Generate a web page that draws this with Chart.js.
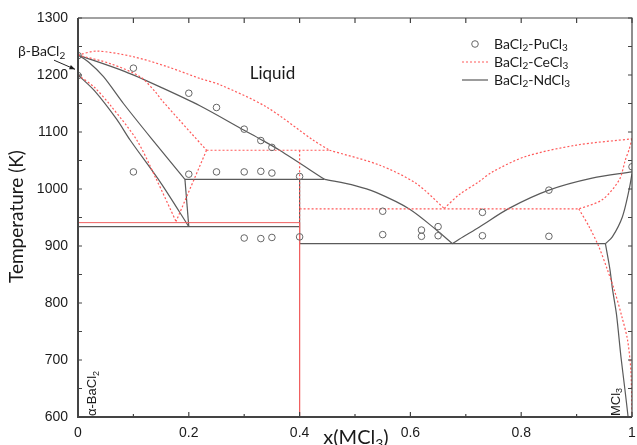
<!DOCTYPE html>
<html>
<head>
<meta charset="utf-8">
<script src="https://cdn.jsdelivr.net/npm/chart.js@4.4.1/dist/chart.umd.min.js"></script>
<style>
  html, body { margin: 0; padding: 0; background: #fff; }
  #wrap { width: 637px; height: 445px; }
</style>
</head>
<body>
<div id="wrap"><canvas id="c" width="637" height="445"></canvas></div>
<script>
// ticks
var xTicks = [0, 0.2, 0.4, 0.6, 0.8, 1];
var xMinorTicks = [0.1, 0.3, 0.5, 0.7, 0.9];
var yTicks = [600, 700, 800, 900, 1000, 1100, 1200, 1300];
var yMinorTicks = [650, 750, 850, 950, 1050, 1150, 1250];

// BaCl2-PuCl3 experimental points
var puX = [0, 0, 0.1, 0.1, 0.2, 0.2, 0.25, 0.25, 0.3, 0.3, 0.3, 0.33, 0.33, 0.33, 0.35, 0.35, 0.35, 0.4, 0.4, 0.55, 0.55, 0.62, 0.62, 0.65, 0.65, 0.73, 0.73, 0.85, 0.85, 1.0];
var puT = [1234, 1199, 1212, 1030, 1168, 1026, 1143, 1030, 1105, 1030, 914, 1085, 1031, 913, 1073, 1028, 915, 1022, 916, 961, 920, 928, 917, 934, 918, 959, 918, 998, 917, 1039];

// BaCl2-CeCl3 calculated lines (x, T)
var ceLiquidusL = [[0, 1235], [0.034, 1242], [0.1, 1232], [0.16, 1215], [0.22, 1194], [0.256, 1183], [0.34, 1144], [0.424, 1086], [0.454, 1068]];
var ceLiquidusM = [[0.454, 1068], [0.544, 1042], [0.61, 1010], [0.661, 966]];
var ceLiquidusR = [[0.661, 966], [0.688, 990], [0.724, 1013], [0.748, 1030], [0.808, 1057], [0.9, 1077], [1.0, 1088]];
var ceSolvusR = [[1.0, 1088], [0.995, 1070], [0.988, 1051], [0.977, 1016], [0.946, 981], [0.904, 965]];
var ceSolvusR2 = [[0.904, 965], [0.922, 935], [0.94, 899], [0.955, 860], [0.968, 823], [0.982, 775], [0.992, 735], [0.998, 680], [1.0, 600]];
var ceSolidusL = [[0, 1235], [0.058, 1220], [0.112, 1197], [0.14, 1170], [0.151, 1156], [0.232, 1068]];
var ceSolvusL = [[0, 1200], [0.03, 1178], [0.06, 1145], [0.106, 1086], [0.14, 1020], [0.177, 943]];
var ceVee = [[0.232, 1068], [0.177, 943]];
var cePeritectic = [[0.232, 1068], [0.454, 1068]];
var ceEutectic = [[0.4, 965], [0.904, 965]];
var ceCompoundTop = [[0.4, 1068], [0.4, 941]];
var ceEutectoid = [[0, 941], [0.4, 941]];
var ceCompound = [[0.4, 941], [0.4, 600]];

// BaCl2-NdCl3 calculated lines (x, T)
var ndLiquidusL = [[0, 1235], [0.085, 1206], [0.153, 1177], [0.22, 1146], [0.3, 1103], [0.33, 1087], [0.364, 1068], [0.445, 1017]];
var ndLiquidusM = [[0.445, 1017], [0.5, 1006], [0.538, 994], [0.598, 965], [0.646, 929], [0.676, 904]];
var ndLiquidusR = [[0.676, 904], [0.688, 912], [0.724, 933], [0.778, 966], [0.85, 998], [0.928, 1019], [1.0, 1030]];
var ndSolidusL = [[0, 1235], [0.02, 1222], [0.046, 1197], [0.082, 1150], [0.133, 1088], [0.193, 1017]];
var ndSolvusL = [[0, 1200], [0.03, 1172], [0.07, 1122], [0.094, 1086], [0.15, 1010], [0.2, 934]];
var ndStep = [[0.193, 1017], [0.2, 934]];
var ndPeritectic = [[0.193, 1017], [0.445, 1017]];
var ndEutectoid = [[0, 934], [0.4, 934]];
var ndCompound = [[0.4, 1017], [0.4, 904]];
var ndEutectic = [[0.4, 904], [0.952, 904]];
var ndSolidusR = [[0.952, 904], [0.9645, 916], [0.9826, 951], [0.9946, 998], [1.0, 1027]];
var ndSolvusR = [[0.952, 904], [0.96, 860], [0.965, 823], [0.972, 780], [0.98, 706], [0.987, 650], [0.993, 600]];

var legendLabels = ['BaCl_2-PuCl_3', 'BaCl_2-CeCl_3', 'BaCl_2-NdCl_3'];

var RED = '#ff5a5a';
var GREY = '#5a5a5a';
var SANS = 'Lato, "Noto Sans", sans-serif';
var ARIAL = '"Liberation Sans", Arial, sans-serif';

function pts(arr) {
  return arr.map(function (p) { return { x: p[0], y: p[1] }; });
}

function lineSet(arr, color, dashed, width, tension) {
  return {
    data: pts(arr),
    showLine: true,
    borderColor: color,
    borderWidth: width || 1.2,
    borderDash: dashed ? [2, 2] : [],
    pointRadius: 0,
    pointHoverRadius: 0,
    tension: tension || 0,
    fill: false,
    order: color === GREY ? 2 : 1
  };
}

var datasets = [];
datasets.push({
  label: legendLabels[0],
  data: puX.map(function (x, i) { return { x: x, y: puT[i] }; }),
  showLine: false,
  pointStyle: 'circle',
  pointRadius: 3.3,
  pointBorderWidth: 1,
  pointBorderColor: '#666',
  pointBackgroundColor: 'rgba(255,255,255,0)',
  order: 0
});
[ndLiquidusL, ndLiquidusM, ndLiquidusR, ndSolidusL, ndSolvusL, ndSolidusR, ndSolvusR].forEach(function (a) {
  datasets.push(lineSet(a, GREY, false, 1.2, 0.3));
});
[ndStep, ndPeritectic, ndEutectoid, ndCompound, ndEutectic].forEach(function (a) {
  datasets.push(lineSet(a, GREY, false, 1.2, 0));
});
[ceLiquidusL, ceLiquidusM, ceLiquidusR, ceSolvusR, ceSolvusR2, ceSolidusL, ceSolvusL].forEach(function (a) {
  datasets.push(lineSet(a, RED, true, 1.2, 0.3));
});
[ceVee, cePeritectic, ceEutectic, ceCompoundTop].forEach(function (a) {
  datasets.push(lineSet(a, RED, true, 1.2, 0));
});
[ceEutectoid, ceCompound].forEach(function (a) {
  datasets.push(lineSet(a, '#f06060', false, 1, 0));
});

function drawRich(ctx, text, x, y, size, align, family) {
  var fam = family || SANS;
  var segs = text.split('_');
  var pieces = [];
  segs.forEach(function (s, i) {
    if (i === 0) { if (s) pieces.push([s, 0]); return; }
    pieces.push([s.charAt(0), 1]);
    if (s.length > 1) pieces.push([s.slice(1), 0]);
  });
  var subSize = Math.round(size * 0.68);
  var total = 0;
  pieces.forEach(function (p) {
    ctx.font = (p[1] ? subSize : size) + 'px ' + fam;
    p.push(ctx.measureText(p[0]).width);
    total += p[2];
  });
  var cx = x;
  if (align === 'center') cx = x - total / 2;
  if (align === 'right') cx = x - total;
  ctx.textAlign = 'left';
  ctx.textBaseline = 'middle';
  pieces.forEach(function (p) {
    ctx.font = (p[1] ? subSize : size) + 'px ' + fam;
    ctx.fillText(p[0], cx, p[1] ? y + size * 0.3 : y);
    cx += p[2];
  });
}

var decorPlugin = {
  id: 'decor',
  afterDraw: function (chart) {
    var ctx = chart.ctx;
    var xs = chart.scales.x, ys = chart.scales.y;
    var a = chart.chartArea;
    ctx.save();

    // frame
    ctx.strokeStyle = '#444';
    ctx.lineWidth = 1.2;
    ctx.beginPath();
    ctx.moveTo(a.left, a.top); ctx.lineTo(a.right, a.top); ctx.lineTo(a.right, a.bottom);
    ctx.stroke();
    ctx.lineWidth = 2;
    ctx.beginPath();
    ctx.moveTo(a.left, a.top); ctx.lineTo(a.left, a.bottom); ctx.lineTo(a.right, a.bottom);
    ctx.stroke();

    // inward ticks
    ctx.lineWidth = 1.2;
    ctx.beginPath();
    xTicks.concat(xMinorTicks).forEach(function (v) {
      var px = xs.getPixelForValue(v);
      var major = xTicks.indexOf(v) >= 0;
      ctx.moveTo(px, a.bottom); ctx.lineTo(px, a.bottom - (major ? 5 : 3));
      ctx.moveTo(px, a.top); ctx.lineTo(px, a.top + 5);
    });
    yTicks.concat(yMinorTicks).forEach(function (v) {
      var py = ys.getPixelForValue(v);
      ctx.moveTo(a.left, py); ctx.lineTo(a.left + 4, py);
      ctx.moveTo(a.right, py); ctx.lineTo(a.right - 4, py);
    });
    ctx.stroke();

    ctx.fillStyle = '#1a1a1a';

    // axis titles
    ctx.save();
    ctx.translate(17, (a.top + a.bottom) / 2 - 1);
    ctx.rotate(-Math.PI / 2);
    drawRich(ctx, 'Temperature (K)', 0, 0, 19, 'center');
    ctx.restore();
    drawRich(ctx, 'x(MCl_3)', (xs.getPixelForValue(0.4) + xs.getPixelForValue(0.6)) / 2 + 1, a.bottom + 21, 20, 'center');

    // Liquid label
    drawRich(ctx, 'Liquid', xs.getPixelForValue(0.31), ys.getPixelForValue(1202), 17, 'left');

    // beta-BaCl2 with arrow
    var x0 = xs.getPixelForValue(0);
    drawRich(ctx, '\u03b2-BaCl_2', 18, ys.getPixelForValue(1241), 14, 'left');
    var tx = x0 - 24, ty = ys.getPixelForValue(1226);
    var hx = x0 - 3, hy = ys.getPixelForValue(1210);
    ctx.strokeStyle = '#222';
    ctx.lineWidth = 1;
    ctx.beginPath(); ctx.moveTo(tx, ty); ctx.lineTo(hx, hy); ctx.stroke();
    var ang = Math.atan2(hy - ty, hx - tx);
    ctx.beginPath();
    ctx.moveTo(hx, hy);
    ctx.lineTo(hx - 6 * Math.cos(ang - 0.4), hy - 6 * Math.sin(ang - 0.4));
    ctx.lineTo(hx - 6 * Math.cos(ang + 0.4), hy - 6 * Math.sin(ang + 0.4));
    ctx.closePath(); ctx.fill();

    // alpha-BaCl2 and MCl3 (vertical)
    ctx.save();
    ctx.translate(xs.getPixelForValue(0.026), a.bottom - 1);
    ctx.rotate(-Math.PI / 2);
    drawRich(ctx, '\u03b1-BaCl_2', 0, 0, 13, 'left', ARIAL);
    ctx.restore();
    ctx.save();
    ctx.translate(xs.getPixelForValue(0.971), a.bottom - 1);
    ctx.rotate(-Math.PI / 2);
    drawRich(ctx, 'MCl_3', 0, 0, 13, 'left', ARIAL);
    ctx.restore();

    // legend
    var lx = 462, lx2 = 488, tx0 = 494;
    var rows = [44, 62, 80];
    ctx.strokeStyle = '#666';
    ctx.lineWidth = 1;
    ctx.beginPath(); ctx.arc(475, rows[0], 3.3, 0, Math.PI * 2); ctx.stroke();
    ctx.strokeStyle = RED; ctx.lineWidth = 1.2; ctx.setLineDash([2, 2]);
    ctx.beginPath(); ctx.moveTo(lx, rows[1]); ctx.lineTo(lx2, rows[1]); ctx.stroke();
    ctx.setLineDash([]);
    ctx.strokeStyle = GREY;
    ctx.beginPath(); ctx.moveTo(lx, rows[2]); ctx.lineTo(lx2, rows[2]); ctx.stroke();
    ctx.fillStyle = '#1a1a1a';
    legendLabels.forEach(function (t, i) { drawRich(ctx, t, tx0, rows[i], 14, 'left'); });

    ctx.restore();
  }
};

new Chart(document.getElementById('c'), {
  type: 'scatter',
  data: { datasets: datasets },
  plugins: [decorPlugin],
  options: {
    responsive: false,
    animation: false,
    events: [],
    layout: { padding: { top: 18, right: 4, left: 0, bottom: 0 } },
    plugins: { legend: { display: false }, tooltip: { enabled: false } },
    scales: {
      x: {
        type: 'linear', min: 0, max: 1,
        afterFit: function (s) { s.height = 28; s.paddingRight = 0; s.paddingLeft = 0; },
        afterBuildTicks: function (s) { s.ticks = xTicks.map(function (v) { return { value: v }; }); },
        grid: { display: false, drawTicks: false },
        border: { display: false },
        ticks: {
          padding: 8, color: '#1a1a1a', font: { family: ARIAL, size: 14 },
          callback: function (v) { return String(Math.round(v * 10) / 10); }
        }
      },
      y: {
        type: 'linear', min: 600, max: 1300,
        afterFit: function (s) { s.width = 78; s.paddingTop = 0; s.paddingBottom = 0; },
        afterBuildTicks: function (s) { s.ticks = yTicks.map(function (v) { return { value: v }; }); },
        grid: { display: false, drawTicks: false },
        border: { display: false },
        ticks: {
          padding: 10, color: '#1a1a1a', font: { family: ARIAL, size: 14 },
          callback: function (v) { return String(v); }
        }
      }
    }
  }
});
</script>
</body>
</html>
